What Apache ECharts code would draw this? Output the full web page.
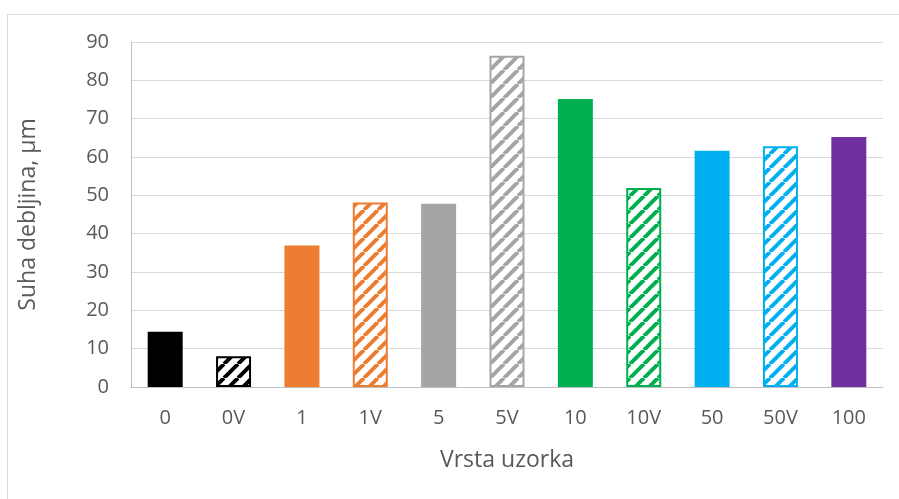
<!DOCTYPE html>
<html>
<head>
<meta charset="utf-8">
<script src="https://cdn.jsdelivr.net/npm/echarts@6/dist/echarts.min.js"></script>
<style>html,body{margin:0;padding:0;background:#fff}#c{width:899px;height:499px}</style>
</head>
<body>
<div id="c"></div>
<script>
const categories = ['0', '0V', '1', '1V', '5', '5V', '10', '10V', '50', '50V', '100'];
const values = [14.4, 8.0, 36.9, 48.1, 47.8, 86.4, 75.1, 51.9, 61.6, 62.8, 65.2];
const barColors = ['#000000', '#000000', '#ED7D31', '#ED7D31', '#A5A5A5', '#A5A5A5', '#00B050', '#00B050', '#00B0F0', '#00B0F0', '#7030A0'];
const hatched = [false, true, false, true, false, true, false, true, false, true, false];
const yTicks = [0, 10, 20, 30, 40, 50, 60, 70, 80, 90];
const xTitle = 'Vrsta uzorka';
const yTitle = 'Suha debljina, μm';

function hatch(color) {
  const s = 14;
  const c = document.createElement('canvas');
  c.width = s; c.height = s;
  const g = c.getContext('2d');
  g.fillStyle = '#fff';
  g.fillRect(0, 0, s, s);
  g.strokeStyle = color;
  g.lineWidth = 4;
  g.beginPath();
  for (let k = -1; k <= 1; k++) {
    g.moveTo(k * s, s);
    g.lineTo(k * s + s, 0);
  }
  g.stroke();
  return { image: c, repeat: 'repeat' };
}

const font = 'Open Sans';
const data = values.map((v, i) => ({
  value: v,
  itemStyle: hatched[i]
    ? { color: hatch(barColors[i]), borderColor: barColors[i], borderWidth: 2 }
    : { color: barColors[i] }
}));

const chart = echarts.init(document.getElementById('c'), null, { renderer: 'canvas' });
chart.setOption({
  animation: false,
  backgroundColor: '#fff',
  textStyle: { fontFamily: font },
  graphic: [{
    type: 'rect', left: 5, top: 12, silent: true,
    shape: { x: 0, y: 0, width: 1000, height: 1000 },
    style: { fill: 'none', stroke: '#d9d9d9', lineWidth: 1 }
  }],
  grid: { left: 131, right: 16, top: 42, bottom: 112, containLabel: false },
  xAxis: {
    type: 'category',
    data: categories,
    name: xTitle,
    nameLocation: 'middle',
    nameGap: 62,
    nameTextStyle: { fontSize: 23, color: '#595959', fontFamily: font },
    axisLine: { lineStyle: { color: '#bfbfbf', width: 1 } },
    axisTick: { show: false },
    axisLabel: { fontSize: 20, color: '#595959', margin: 21, fontFamily: font }
  },
  yAxis: {
    type: 'value',
    min: yTicks[0],
    max: yTicks[yTicks.length - 1],
    interval: 10,
    name: yTitle,
    nameLocation: 'middle',
    nameGap: 91,
    nameTextStyle: { fontSize: 23, color: '#595959', fontFamily: font },
    axisLine: { show: true, lineStyle: { color: '#bfbfbf', width: 1 } },
    axisTick: { show: false },
    axisLabel: { fontSize: 20, color: '#595959', margin: 22, fontFamily: font },
    splitLine: { lineStyle: { color: '#d9d9d9', width: 1 } }
  },
  series: [{
    type: 'bar',
    data: data,
    barWidth: 35
  }]
});
</script>
</body>
</html>
